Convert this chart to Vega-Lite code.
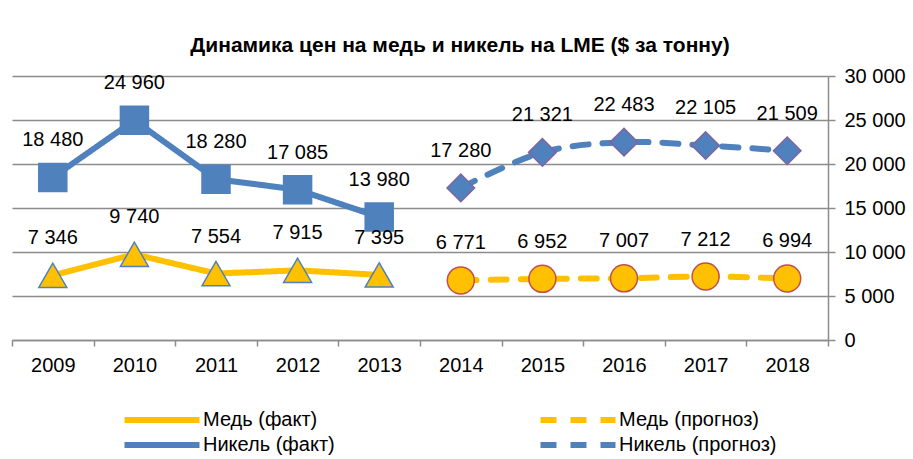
{
  "$schema": "https://vega.github.io/schema/vega-lite/v6.json",
  "width": 816,
  "height": 264,
  "autosize": "none",
  "padding": {"left": 12, "top": 76, "right": 85, "bottom": 119},
  "background": "white",
  "title": {
    "text": "Динамика цен на медь и никель на LME ($ за тонну)",
    "fontSize": 21,
    "fontWeight": "bold",
    "font": "Liberation Sans",
    "color": "black",
    "anchor": "middle",
    "frame": "group",
    "dx": 40,
    "offset": 10
  },
  "data": {
    "values": [
      {"year": "2009", "value": 7346, "series": "Медь (факт)"},
      {"year": "2010", "value": 9740, "series": "Медь (факт)"},
      {"year": "2011", "value": 7554, "series": "Медь (факт)"},
      {"year": "2012", "value": 7915, "series": "Медь (факт)"},
      {"year": "2013", "value": 7395, "series": "Медь (факт)"},
      {"year": "2009", "value": 18480, "series": "Никель (факт)"},
      {"year": "2010", "value": 24960, "series": "Никель (факт)"},
      {"year": "2011", "value": 18280, "series": "Никель (факт)"},
      {"year": "2012", "value": 17085, "series": "Никель (факт)"},
      {"year": "2013", "value": 13980, "series": "Никель (факт)"},
      {"year": "2014", "value": 6771, "series": "Медь (прогноз)"},
      {"year": "2015", "value": 6952, "series": "Медь (прогноз)"},
      {"year": "2016", "value": 7007, "series": "Медь (прогноз)"},
      {"year": "2017", "value": 7212, "series": "Медь (прогноз)"},
      {"year": "2018", "value": 6994, "series": "Медь (прогноз)"},
      {"year": "2014", "value": 17280, "series": "Никель (прогноз)"},
      {"year": "2015", "value": 21321, "series": "Никель (прогноз)"},
      {"year": "2016", "value": 22483, "series": "Никель (прогноз)"},
      {"year": "2017", "value": 22105, "series": "Никель (прогноз)"},
      {"year": "2018", "value": 21509, "series": "Никель (прогноз)"}
    ]
  },
  "encoding": {
    "x": {
      "field": "year",
      "type": "nominal",
      "sort": null,
      "scale": {"type": "band", "paddingInner": 0, "paddingOuter": 0},
      "axis": {
        "title": null,
        "labelAngle": 0,
        "tickBand": "extent",
        "domainColor": "#8c8c8c",
        "domainWidth": 1.5,
        "tickColor": "#8c8c8c",
        "tickWidth": 1.5,
        "tickSize": 6,
        "labelFontSize": 20,
        "labelColor": "black",
        "labelPadding": 9,
        "grid": false
      }
    },
    "y": {
      "field": "value",
      "type": "quantitative",
      "scale": {"domain": [0, 30000], "nice": false},
      "axis": {
        "orient": "right",
        "title": null,
        "values": [0, 5000, 10000, 15000, 20000, 25000, 30000],
        "format": ",d",
        "grid": true,
        "gridColor": "#8c8c8c",
        "gridWidth": 1.5,
        "domainColor": "#8c8c8c",
        "domainWidth": 1.5,
        "tickColor": "#8c8c8c",
        "tickWidth": 1.5,
        "tickSize": 7,
        "labelFontSize": 20,
        "labelColor": "black",
        "labelPadding": 9
      }
    }
  },
  "layer": [
    {
      "transform": [{"filter": "indexof(datum.series, 'факт') >= 0"}],
      "mark": {"type": "line", "strokeWidth": 6, "strokeCap": "round"},
      "encoding": {
        "color": {
          "field": "series",
          "type": "nominal",
          "scale": {
            "domain": ["Медь (факт)", "Медь (прогноз)", "Никель (факт)", "Никель (прогноз)"],
            "range": ["#FFC000", "#FFC000", "#4F81BD", "#4F81BD"]
          },
          "legend": {
            "orient": "none",
            "direction": "horizontal",
            "legendX": 137,
            "legendY": 331,
            "columns": 2,
            "columnPadding": 193,
            "rowPadding": -1,
            "title": null,
            "values": ["Медь (факт)", "Медь (прогноз)", "Никель (факт)", "Никель (прогноз)"]
          }
        },
        "strokeDash": {
          "field": "series",
          "type": "nominal",
          "scale": {
            "domain": ["Медь (факт)", "Медь (прогноз)", "Никель (факт)", "Никель (прогноз)"],
            "range": [[1, 0], [16, 14], [1, 0], [16, 14]]
          },
          "legend": {
            "orient": "none",
            "direction": "horizontal",
            "legendX": 137,
            "legendY": 331,
            "columns": 2,
            "columnPadding": 193,
            "rowPadding": -1,
            "title": null,
            "values": ["Медь (факт)", "Медь (прогноз)", "Никель (факт)", "Никель (прогноз)"]
          }
        }
      }
    },
    {
      "transform": [{"filter": "indexof(datum.series, 'прогноз') >= 0"}],
      "mark": {"type": "line", "strokeWidth": 6, "strokeCap": "round", "interpolate": "catmull-rom"},
      "encoding": {
        "color": {
          "field": "series",
          "type": "nominal",
          "scale": {
            "domain": ["Медь (факт)", "Медь (прогноз)", "Никель (факт)", "Никель (прогноз)"],
            "range": ["#FFC000", "#FFC000", "#4F81BD", "#4F81BD"]
          }
        },
        "strokeDash": {
          "field": "series",
          "type": "nominal",
          "scale": {
            "domain": ["Медь (факт)", "Медь (прогноз)", "Никель (факт)", "Никель (прогноз)"],
            "range": [[1, 0], [16, 14], [1, 0], [16, 14]]
          }
        }
      }
    },
    {
      "transform": [{"filter": "datum.series == 'Медь (факт)'"}],
      "mark": {"type": "point", "shape": "triangle-up", "filled": true, "size": 784, "fill": "#FFC000", "stroke": "#4F81BD", "strokeWidth": 1.5, "opacity": 1}
    },
    {
      "transform": [{"filter": "datum.series == 'Медь (прогноз)'"}],
      "mark": {"type": "point", "shape": "circle", "filled": true, "size": 729, "fill": "#FFC000", "stroke": "#C0504D", "strokeWidth": 1.5, "opacity": 1}
    },
    {
      "transform": [{"filter": "datum.series == 'Никель (факт)'"}],
      "mark": {"type": "point", "shape": "square", "filled": true, "size": 784, "fill": "#4F81BD", "stroke": "#4F81BD", "strokeWidth": 1.5, "opacity": 1}
    },
    {
      "transform": [{"filter": "datum.series == 'Никель (прогноз)'"}],
      "mark": {"type": "point", "shape": "diamond", "filled": true, "size": 760, "fill": "#4F81BD", "stroke": "#8064A2", "strokeWidth": 1.5, "opacity": 1}
    },
    {
      "mark": {"type": "text", "dy": -37, "fontSize": 20, "color": "black", "font": "Liberation Sans"},
      "encoding": {
        "text": {"field": "value", "type": "quantitative", "format": ",d"}
      }
    }
  ],
  "config": {
    "locale": {"number": {"decimal": ",", "thousands": " ", "grouping": [3], "currency": ["", ""]}},
    "font": "Liberation Sans",
    "view": {"stroke": null},
    "legend": {
      "labelFontSize": 20,
      "labelColor": "black",
      "labelLimit": 400,
      "symbolType": "M-3.75,0H3.75",
      "symbolSize": 400,
      "symbolStrokeWidth": 6,
      "labelOffset": 28
    }
  }
}
